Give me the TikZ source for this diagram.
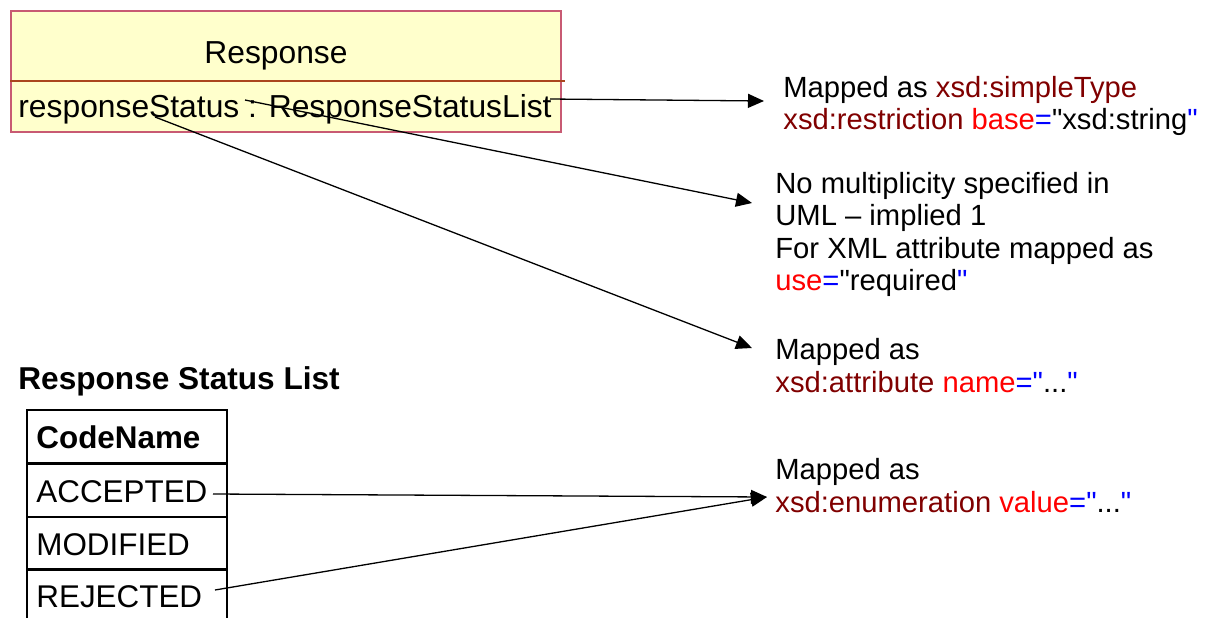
\documentclass[tikz,border=0pt]{standalone}
\usepackage{fontspec}
\setmainfont{Liberation Sans}[Ligatures=TeXOff]
\usetikzlibrary{arrows.meta, positioning}
\definecolor{xsdname}{RGB}{128,0,0}
\definecolor{xsdattr}{RGB}{255,0,0}
\definecolor{xsdeq}{RGB}{0,0,255}
\definecolor{clsfill}{RGB}{255,255,204}
\definecolor{clsline}{RGB}{200,90,115}
\definecolor{clsrule}{RGB}{170,70,30}
\newcommand{\xn}[1]{\textcolor{xsdname}{#1}}
\newcommand{\xa}[1]{\textcolor{xsdattr}{#1}}
\newcommand{\xe}[1]{\textcolor{xsdeq}{#1}}

\begin{document}
\begin{tikzpicture}[x=0.5pt, y=-0.5pt, >={Triangle[length=8pt, width=7pt]}, every node/.style={inner sep=0pt}]
  \tikzset{uml/.style={font=\fontsize{15.9}{18}\selectfont},
           note/.style={align=left, font=\fontsize{14.6}{16.25}\selectfont},
           row/.style={font=\fontsize{15.7}{18}\selectfont},
           conn/.style={->, line width=0.65pt}}
  \useasboundingbox (0,0) rectangle (1207,617);

  % class box
  \node[draw=clsline, fill=clsfill, line width=0.75pt, anchor=north west,
        minimum width=275pt, minimum height=60.5pt] (cls) at (10,10) {};
  \draw[clsrule, line width=0.75pt] (10,81) -- (565,81);
  \node[uml, anchor=base] (clsname) at (276,63) {Response};
  \node[uml, anchor=base west] (attr) at (18,117) {responseStatus : ResponseStatusList};

  % code list
  \node[row, font=\fontsize{15.8}{18}\selectfont\bfseries, anchor=base west] (listtitle) at (18,389) {Response Status List};
  \foreach \top/\nm/\txt in {410/hdr/\textbf{CodeName}, 464/acc/ACCEPTED, 517/mod/MODIFIED, 569/rej/REJECTED} {
    \draw[line width=1pt] (27,\top) rectangle (227,{\top+53});
    \node[row, anchor=base west] (\nm) at (36,{\top+38}) {\txt};
  }

  % notes (base = last line)
  \node[note, anchor=base west] (simple) at (783,129.5)
    {Mapped as \xn{xsd:simpleType}\\\xn{xsd:restriction} \xa{base}\xe{=}"xsd:string\xe{"}};
  \node[note, anchor=base west] (multi) at (775,290.5)
    {No multiplicity specified in\\UML – implied 1\\For XML attribute mapped as\\\xa{use}\xe{=}"required\xe{"}};
  \node[note, anchor=base west] (attrib) at (775,392)
    {Mapped as\\\xn{xsd:attribute} \xa{name}\xe{="}...\xe{"}};
  \node[note, anchor=base west] (enum) at (775,512)
    {Mapped as\\\xn{xsd:enumeration} \xa{value}\xe{="}...\xe{"}};

  % connector ends
  \coordinate (attrend) at (550,99);
  \coordinate (attrcolon) at (245,100);
  \coordinate (attrname) at (155,117);
  \coordinate (accend) at (213,494);
  \coordinate (rejend) at (215,590);
  \coordinate (simpletip) at (764,101);
  \coordinate (multitip) at (752,203);
  \coordinate (attribtip) at (752,348);
  \coordinate (enumtip) at (767,497);

  \draw[conn] (attrend) -- (simpletip);
  \draw[conn] (attrcolon) -- (multitip);
  \draw[conn] (attrname) -- (attribtip);
  \draw[conn] (accend) -- (enumtip);
  \draw[conn] (rejend) -- (enumtip);
\end{tikzpicture}
\end{document}
